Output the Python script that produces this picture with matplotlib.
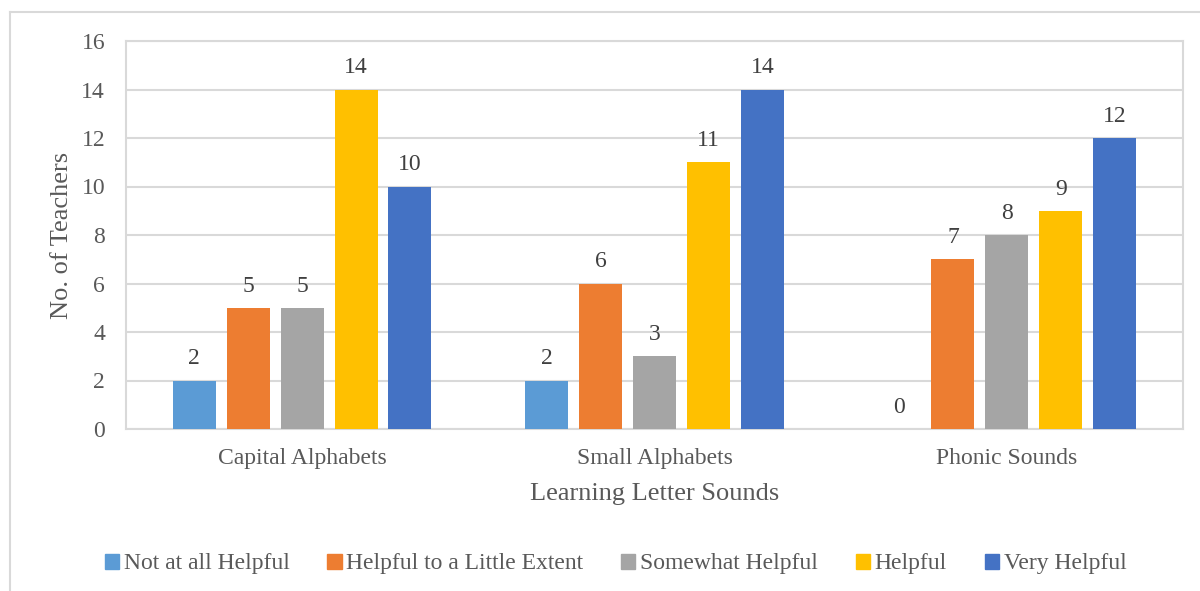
import matplotlib
matplotlib.use("Agg")
import matplotlib.pyplot as plt
import numpy as np
from matplotlib.lines import Line2D

plt.rcParams['font.family'] = ['Liberation Serif', 'DejaVu Serif']

categories = ["Capital Alphabets", "Small Alphabets", "Phonic Sounds"]
series_names = ["Not at all Helpful", "Helpful to a Little Extent", "Somewhat Helpful",
                "Helpful", "Very Helpful"]
not_at_all = [2, 2, 0]
little_extent = [5, 6, 7]
somewhat = [5, 3, 8]
helpful = [14, 11, 9]
very_helpful = [10, 14, 12]
series_values = [not_at_all, little_extent, somewhat, helpful, very_helpful]
colors = ["#5B9BD5", "#ED7D31", "#A5A5A5", "#FFC000", "#4472C4"]
yticks = [0, 2, 4, 6, 8, 10, 12, 14, 16]

W, H = 1200, 591
fig = plt.figure(figsize=(W / 100, H / 100), dpi=100)
ax = fig.add_axes([126 / W, 1 - 429 / H, (1183 - 126) / W, (429 - 41) / H])

x = np.arange(len(categories))
bw = 0.122
step = 0.153
for i, (name, vals, c) in enumerate(zip(series_names, series_values, colors)):
    pos = x + (i - 2) * step
    ax.bar(pos, vals, width=bw, color=c, label=name, zorder=3)
    for xp, v in zip(pos, vals):
        ax.annotate(str(v), (xp, v), xytext=(0, 8), textcoords="offset points",
                    ha="center", va="bottom", fontsize=17, color="#404040")

ax.set_xlim(-0.5, 2.5)
ax.set_ylim(0, 16)
ax.set_yticks(yticks)
ax.set_yticklabels([str(t) for t in yticks])
ax.set_xticks(x)
ax.set_xticklabels(categories)
ax.tick_params(axis="both", length=0, labelsize=17, labelcolor="#595959")
ax.tick_params(axis="y", pad=15)
ax.tick_params(axis="x", pad=14)
ax.grid(axis="y", color="#D9D9D9", linewidth=1.5, zorder=0)
for s in ax.spines.values():
    s.set_color("#D9D9D9")
    s.set_linewidth(1.5)

ax.set_xlabel("Learning Letter Sounds", fontsize=19, color="#595959", labelpad=10)
ax.set_ylabel("No. of Teachers", fontsize=19, color="#595959", labelpad=6)

handles = [plt.Rectangle((0, 0), 1, 1, color=c) for c in colors]
fig.legend(handles, series_names, loc="center", bbox_to_anchor=(0.513, 1 - 564 / H),
           ncol=5, frameon=False, fontsize=17, labelcolor="#595959",
           handlelength=0.6, handleheight=0.6, handletextpad=0.2, columnspacing=1.6)

# outer chart border (top and left visible)
fig.add_artist(Line2D([10 / W, 10 / W], [0, 1 - 12 / H], transform=fig.transFigure,
                      color="#D9D9D9", linewidth=1.5))
fig.add_artist(Line2D([10 / W, 1], [1 - 12 / H, 1 - 12 / H], transform=fig.transFigure,
                      color="#D9D9D9", linewidth=1.5))

fig.savefig("out.png", dpi=100)
